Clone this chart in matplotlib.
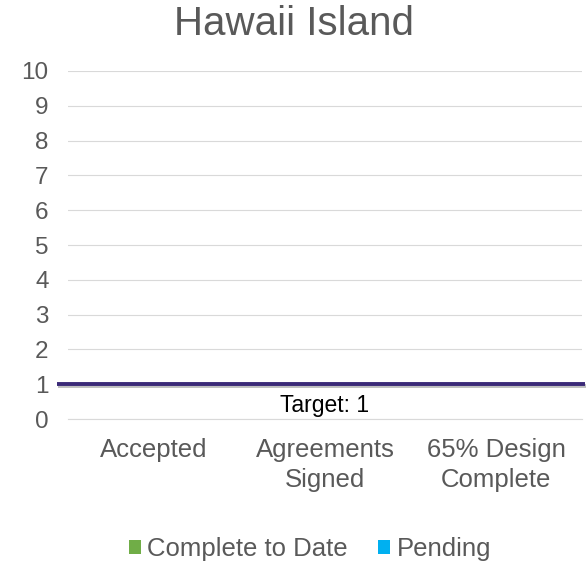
import matplotlib
matplotlib.use("Agg")
import matplotlib.pyplot as plt
import matplotlib.patheffects as pe
import numpy as np

plt.rcParams['font.family'] = ['Liberation Sans', 'DejaVu Sans']

# Milestone progress for the island
categories = ["Accepted", "Agreements\nSigned", "65% Design\nComplete"]
complete_to_date = [0, 0, 0]
pending = [0, 0, 0]
target = 1

grey = "#595959"

fig = plt.figure(figsize=(5.87, 5.67), dpi=100)
ax = fig.add_axes([68 / 587, 1 - 419 / 567, 514 / 587, 348 / 567])

x = np.arange(len(categories))
ax.bar(x, complete_to_date, width=0.6, color="#70AD47", label="Complete to Date")
ax.bar(x, pending, width=0.6, bottom=complete_to_date, color="#00B0F0", label="Pending")

ax.set_xlim(-0.5, len(categories) - 0.5)
ax.set_ylim(0, 10)
ax.set_yticks(range(0, 11))
ax.grid(axis="y", color="#D9D9D9", linewidth=0.8)
ax.set_axisbelow(True)
for s in ax.spines.values():
    s.set_visible(False)
ax.spines["bottom"].set_visible(True)
ax.spines["bottom"].set_color("#D9D9D9")
ax.tick_params(axis="y", length=0, labelsize=17.5, labelcolor=grey, pad=14)
ax.set_xticks(x)
ax.set_xticklabels(categories, linespacing=1.3)
ax.tick_params(axis="x", length=0, labelsize=18.5, labelcolor=grey, pad=14)

# target line, running slightly past the plot edges
ax.plot([-0.565, len(categories) - 0.48], [target, target], color="#3B2A78",
        linewidth=2.8, clip_on=False, solid_capstyle="butt",
        path_effects=[pe.SimpleLineShadow(offset=(0.5, -1.5), alpha=0.25),
                      pe.Normal()])
ax.text(1, target - 0.62, f"Target: {target}", ha="center", va="center",
        fontsize=16.5, color="black")

fig.text(0.5, 1 - 24 / 567, "Hawaii Island", ha="center", va="center",
         fontsize=29, color=grey)

fig.legend(handles=ax.containers[0:2], labels=["Complete to Date", "Pending"],
           loc="center", bbox_to_anchor=(0.528, 1 - 549 / 567), ncol=2,
           frameon=False, fontsize=18.5, handlelength=0.45, handleheight=0.45,
           handletextpad=0.25, columnspacing=1.2, labelcolor=grey)

fig.savefig("out.png", dpi=100)
